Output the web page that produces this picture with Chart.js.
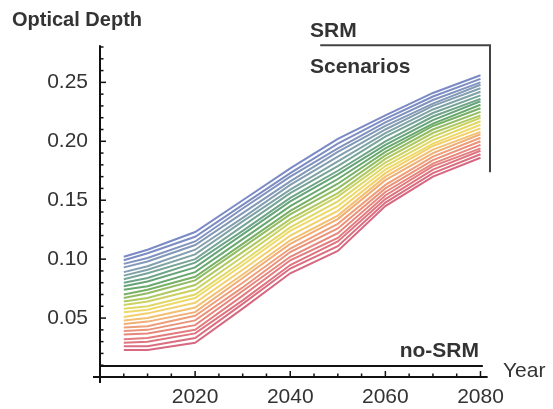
<!DOCTYPE html>
<html>
<head>
<meta charset="utf-8">
<script src="https://cdn.jsdelivr.net/npm/chart.js@4.4.1/dist/chart.umd.min.js"></script>
<style>
  html, body { margin: 0; padding: 0; background: #fff; }
  #wrap { width: 553px; height: 409px; }
</style>
</head>
<body>
<div id="wrap"><canvas id="depthChart" width="553" height="409"></canvas></div>
<script>
// Optical depth of the SRM scenarios, one row per scenario (top = blue, bottom = red)
const years = [2005, 2010, 2020, 2030, 2040, 2050, 2060, 2070, 2080];

const depthRows = [
    [0.102, 0.108, 0.123, 0.150, 0.177, 0.202, 0.222, 0.241, 0.256],
    [0.099, 0.105, 0.119, 0.146, 0.173, 0.198, 0.219, 0.238, 0.253],
    [0.096, 0.101, 0.115, 0.143, 0.170, 0.194, 0.216, 0.235, 0.250],
    [0.093, 0.098, 0.112, 0.139, 0.166, 0.191, 0.213, 0.232, 0.248],
    [0.089, 0.094, 0.108, 0.135, 0.163, 0.187, 0.210, 0.230, 0.245],
    [0.086, 0.091, 0.104, 0.132, 0.159, 0.183, 0.207, 0.227, 0.242],
    [0.083, 0.088, 0.100, 0.128, 0.156, 0.179, 0.204, 0.224, 0.239],
    [0.080, 0.084, 0.097, 0.124, 0.152, 0.175, 0.200, 0.221, 0.236],
    [0.077, 0.081, 0.093, 0.121, 0.149, 0.172, 0.197, 0.218, 0.234],
    [0.074, 0.077, 0.089, 0.117, 0.145, 0.168, 0.194, 0.215, 0.231],
    [0.070, 0.074, 0.085, 0.113, 0.141, 0.164, 0.191, 0.213, 0.228],
    [0.067, 0.071, 0.082, 0.110, 0.138, 0.160, 0.188, 0.210, 0.225],
    [0.064, 0.067, 0.078, 0.106, 0.134, 0.156, 0.185, 0.207, 0.222],
    [0.061, 0.064, 0.074, 0.102, 0.131, 0.153, 0.182, 0.204, 0.220],
    [0.058, 0.060, 0.070, 0.098, 0.127, 0.149, 0.179, 0.201, 0.217],
    [0.055, 0.057, 0.067, 0.095, 0.124, 0.145, 0.176, 0.198, 0.214],
    [0.051, 0.054, 0.063, 0.091, 0.120, 0.141, 0.173, 0.196, 0.211],
    [0.048, 0.050, 0.059, 0.087, 0.116, 0.137, 0.170, 0.193, 0.208],
    [0.045, 0.047, 0.055, 0.084, 0.113, 0.134, 0.167, 0.190, 0.206],
    [0.042, 0.043, 0.052, 0.080, 0.109, 0.130, 0.163, 0.187, 0.203],
    [0.039, 0.040, 0.048, 0.076, 0.106, 0.126, 0.160, 0.184, 0.200],
    [0.036, 0.037, 0.044, 0.073, 0.102, 0.122, 0.157, 0.181, 0.197],
    [0.032, 0.033, 0.040, 0.069, 0.099, 0.118, 0.154, 0.179, 0.194],
    [0.029, 0.030, 0.037, 0.065, 0.095, 0.115, 0.151, 0.176, 0.192],
    [0.026, 0.026, 0.033, 0.062, 0.092, 0.111, 0.148, 0.173, 0.189],
    [0.023, 0.023, 0.029, 0.058, 0.088, 0.107, 0.145, 0.170, 0.186]
];

const rowColors = [
    '#7a8ac6', '#7d8dc4', '#8092be', '#8298b8', '#839eb0', '#7fa2a6', '#78a498',
    '#6ea488', '#66a478', '#68a86e', '#78b066', '#92bc62', '#aec862', '#cad262',
    '#e0d866', '#eeda6a', '#f2d06c', '#f2c070', '#f0ae74', '#ee9e78', '#ea927a',
    '#e6867c', '#e27c7e', '#de7480', '#da6e80', '#d66880'
];

// flat no-SRM reference line
const noSrmYears = [2000, 2080.5];
const noSrmDepth = [0.0093, 0.0093];

const yTickLabels = ['0.05', '0.10', '0.15', '0.20', '0.25'];
const xTickLabels = ['2020', '2040', '2060', '2080'];

const labelFont = { family: 'Liberation Sans, Arial, sans-serif', size: 21 };
const inkColor = '#333';

// #region Axes and labels drawn Mathematica style
const axesPlugin = {
    id: 'mmaAxes',
    afterDatasetsDraw(chart) {
        const { ctx, scales: { x, y } } = chart;
        const x0 = x.getPixelForValue(2000);
        const y0 = y.getPixelForValue(0);
        ctx.save();
        ctx.strokeStyle = '#111';
        ctx.lineWidth = 2;
        ctx.beginPath();
        ctx.moveTo(x0, y.getPixelForValue(0.2814));
        ctx.lineTo(x0, y0 + 6);
        ctx.moveTo(x0 - 7, y0);
        ctx.lineTo(x.getPixelForValue(2081.5), y0);
        ctx.stroke();

        ctx.lineWidth = 1.5;
        y.ticks.forEach(t => {
            const cents = Math.round(t.value * 100);
            if (cents === 0) return;
            const len = cents % 5 === 0 ? 6 : 3.5;
            const py = y.getPixelForValue(t.value);
            ctx.beginPath();
            ctx.moveTo(x0 - 1, py);
            ctx.lineTo(x0 + len, py);
            ctx.stroke();
        });
        x.ticks.forEach(t => {
            if (t.value % 5 !== 0 || t.value === 2000) return;
            const len = t.value % 20 === 0 ? 6 : 3.5;
            const px = x.getPixelForValue(t.value);
            ctx.beginPath();
            ctx.moveTo(px, y0 + 1);
            ctx.lineTo(px, y0 - len);
            ctx.stroke();
        });

        // SRM bracket
        const bTop = y.getPixelForValue(0.2814);
        const bRight = x.getPixelForValue(2082);
        ctx.strokeStyle = '#444';
        ctx.lineWidth = 2;
        ctx.beginPath();
        ctx.moveTo(x.getPixelForValue(2046.3), bTop);
        ctx.lineTo(bRight, bTop);
        ctx.lineTo(bRight, y.getPixelForValue(0.1737));
        ctx.stroke();

        ctx.fillStyle = inkColor;
        ctx.textBaseline = 'alphabetic';
        ctx.font = 'bold 20px Liberation Sans, Arial, sans-serif';
        ctx.fillText('Optical Depth', 12, 26);
        ctx.font = 'bold 21px Liberation Sans, Arial, sans-serif';
        ctx.fillText('SRM', 310, 37);
        ctx.fillText('Scenarios', 310, 73);
        ctx.textAlign = 'right';
        ctx.fillText('no-SRM', 479, 357);
        ctx.textAlign = 'left';
        ctx.font = '21px Liberation Sans, Arial, sans-serif';
        ctx.fillText('Year', 503, 377);
        ctx.restore();
    }
};
// #endregion

const datasets = depthRows.map((row, i) => ({
    data: row.map((v, j) => ({ x: years[j], y: v })),
    borderColor: rowColors[i],
    borderWidth: 2,
    pointRadius: 0,
    tension: 0,
    fill: false
}));

datasets.push({
    data: noSrmYears.map((yr, j) => ({ x: yr, y: noSrmDepth[j] })),
    borderColor: '#111',
    borderWidth: 2,
    pointRadius: 0,
    fill: false
});

new Chart(document.getElementById('depthChart').getContext('2d'), {
    type: 'line',
    data: { datasets: datasets },
    options: {
        responsive: false,
        animation: false,
        layout: { padding: { top: 47, right: 63, left: 0, bottom: 0 } },
        plugins: { legend: { display: false }, tooltip: { enabled: false } },
        scales: {
            x: {
                type: 'linear',
                min: 2000,
                max: 2082,
                afterFit: s => { s.height = 32; },
                // tick every 5 years, labels only on the 20-year marks
                afterBuildTicks: s => {
                    const ticks = [];
                    for (let v = 2000; v <= 2080; v += 5) ticks.push({ value: v });
                    s.ticks = ticks;
                },
                grid: { display: false, drawTicks: false },
                border: { display: false },
                ticks: {
                    autoSkip: false,
                    maxRotation: 0,
                    padding: 8,
                    font: labelFont,
                    color: inkColor,
                    callback: v => xTickLabels.includes(String(v)) ? String(v) : ''
                }
            },
            y: {
                min: 0,
                max: 0.28,
                afterFit: s => { s.width = 100; },
                grid: { display: false, drawTicks: false },
                border: { display: false },
                ticks: {
                    stepSize: 0.01,
                    autoSkip: false,
                    padding: 12,
                    font: labelFont,
                    color: inkColor,
                    callback: v => {
                        const s = v.toFixed(2);
                        return yTickLabels.includes(s) ? s : '';
                    }
                }
            }
        }
    },
    plugins: [axesPlugin]
});
</script>
</body>
</html>
